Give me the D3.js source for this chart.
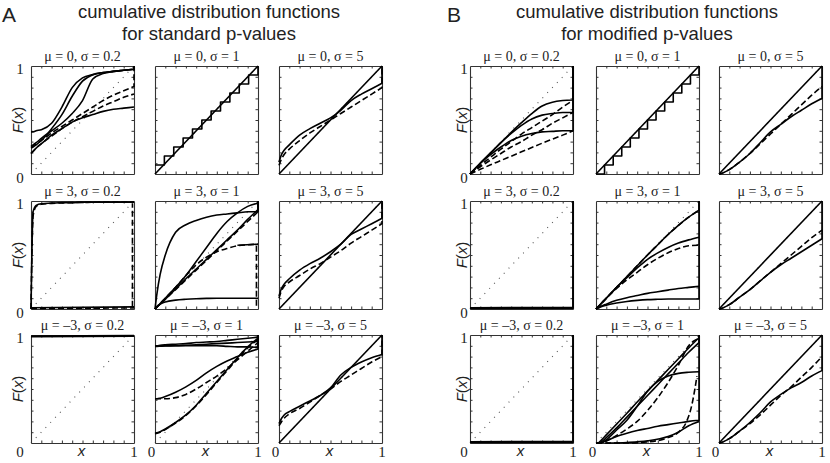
<!DOCTYPE html>
<html><head><meta charset="utf-8">
<script src="https://cdnjs.cloudflare.com/ajax/libs/d3/7.8.5/d3.min.js"></script>
<style>body{margin:0;background:#fff}</style>
</head><body>
<svg id="c" width="830" height="463"></svg>
<script>
// ---------- data ----------
const G = [0, 0.02, 0.05, 0.1, 0.2, 0.3, 0.4, 0.5, 0.6, 0.7, 0.8, 0.9, 1];
const X2 = [0, 1];
const TICKS = [0.1, 0.2, 0.3, 0.4, 0.5, 0.6, 0.7, 0.8, 0.9];
const DIAG = [0, 1];

const panelTitles = [
  ["μ = 0, σ = 0.2", "μ = 0, σ = 1", "μ = 0, σ = 5"],
  ["μ = 3, σ = 0.2", "μ = 3, σ = 1", "μ = 3, σ = 5"],
  ["μ = –3, σ = 0.2", "μ = –3, σ = 1", "μ = –3, σ = 5"]
];
const headA = ["cumulative distribution functions", "for standard p-values"];
const headB = ["cumulative distribution functions", "for modified p-values"];

// staircases
const stairAx = [0, 0.091, 0.182, 0.273, 0.364, 0.455, 0.545, 0.636, 0.727, 0.818, 0.909, 1];
const stairAy = [0.083, 0.167, 0.25, 0.333, 0.417, 0.5, 0.583, 0.667, 0.75, 0.833, 0.917, 1];
const stairBx = [0, 0.083, 0.167, 0.25, 0.333, 0.417, 0.5, 0.583, 0.667, 0.75, 0.833, 0.917, 1];
const stairBy = [0, 0.083, 0.167, 0.25, 0.333, 0.417, 0.5, 0.583, 0.667, 0.75, 0.833, 0.917, 1];

// A, mu = 0
const a11s1 = [0.39,0.39,0.40,0.41,0.47,0.62,0.80,0.89,0.92,0.94,0.95,0.96,0.97];
const a11s2 = [0.26,0.27,0.29,0.33,0.40,0.47,0.56,0.68,0.88,0.93,0.95,0.96,0.97];
const a11s3 = [0.24,0.25,0.27,0.31,0.42,0.55,0.72,0.86,0.92,0.94,0.95,0.96,0.97];
const a11s4 = [0.19,0.21,0.24,0.28,0.36,0.42,0.48,0.52,0.55,0.58,0.60,0.61,0.62];
const a11d1 = [0.25,0.26,0.28,0.31,0.38,0.44,0.50,0.56,0.62,0.68,0.73,0.77,0.81];
const a11d2 = [0.19,0.21,0.24,0.28,0.35,0.42,0.48,0.53,0.58,0.63,0.67,0.71,0.74];
const a13s  = [0.11,0.17,0.22,0.27,0.36,0.42,0.47,0.52,0.59,0.68,0.74,0.79,0.84];
const a13d  = [0.08,0.13,0.18,0.23,0.31,0.38,0.44,0.50,0.56,0.62,0.68,0.74,0.80];
// A, mu = 3
const a21s  = [0,0.90,0.96,0.975,0.98,0.985,0.985,0.99,0.99,0.99,0.99,0.99,0.99];
const a21d  = [0,0.86,0.95,0.97,0.978,0.982,0.985,0.987,0.988,0.99,0.99,0.99,0.99];
const a21bs = [0.012, 0.02];
const a21bd = [0.005, 0.01];
const a21vx = [0.985, 0.985];
const a21vy = [0.02, 0.98];
const a22top = [0,0.15,0.32,0.50,0.71,0.78,0.82,0.85,0.87,0.88,0.89,0.90,0.90];
const a22S   = [0,0.02,0.05,0.10,0.20,0.31,0.44,0.57,0.70,0.81,0.89,0.95,0.98];
const a22lin = [0,0.02,0.045,0.09,0.185,0.28,0.37,0.46,0.55,0.64,0.73,0.83,0.92];
const a22dl  = [0,0.02,0.045,0.09,0.18,0.27,0.36,0.45,0.54,0.63,0.72,0.81,0.90];
const a22dc  = [0,0.02,0.05,0.10,0.20,0.31,0.41,0.48,0.53,0.56,0.585,0.595,0.60];
const a22fx  = [0.8, 1];
const a22fy  = [0.59, 0.60];
const a22bot = [0,0.025,0.045,0.065,0.082,0.09,0.095,0.098,0.10,0.10,0.10,0.10,0.10];
const a22vx  = [0.985, 0.985];
const a22vy  = [0.03, 0.60];
const a23s  = [0.12,0.18,0.23,0.28,0.36,0.42,0.47,0.53,0.60,0.69,0.74,0.79,0.84];
const a23d  = [0.10,0.16,0.21,0.25,0.31,0.37,0.42,0.48,0.54,0.61,0.67,0.73,0.79];
// A, mu = -3
const a31t1 = [0.99, 0.995];
const a31t2 = [0.984, 0.988];
const a32t1 = [0.90,0.90,0.905,0.91,0.915,0.92,0.93,0.935,0.94,0.95,0.96,0.97,0.98];
const a32t2 = [0.90,0.90,0.90,0.90,0.90,0.90,0.90,0.90,0.90,0.895,0.89,0.89,0.885];
const a32t3 = [0.895,0.895,0.896,0.898,0.90,0.905,0.91,0.915,0.92,0.925,0.93,0.935,0.94];
const a32s  = [0.41,0.41,0.415,0.43,0.47,0.52,0.58,0.65,0.71,0.76,0.80,0.84,0.87];
const a32d  = [0.41,0.41,0.41,0.41,0.42,0.45,0.50,0.56,0.62,0.69,0.77,0.85,0.93];
const a32lo = [0.09,0.095,0.105,0.13,0.19,0.26,0.35,0.46,0.57,0.68,0.79,0.89,0.97];
const a32ld = [0.085,0.09,0.10,0.125,0.185,0.255,0.345,0.45,0.56,0.67,0.78,0.88,0.96];
const a33s  = [0.18,0.22,0.26,0.29,0.34,0.39,0.44,0.51,0.63,0.70,0.75,0.79,0.82];
const a33d  = [0.16,0.19,0.23,0.27,0.32,0.38,0.44,0.50,0.57,0.63,0.69,0.75,0.80];

// B, mu = 0
const b11s1 = [0,0.02,0.05,0.10,0.195,0.29,0.385,0.475,0.56,0.63,0.665,0.68,0.685];
const b11s2 = [0,0.02,0.05,0.10,0.195,0.29,0.375,0.45,0.51,0.545,0.56,0.57,0.57];
const b11s3 = [0,0.02,0.05,0.10,0.18,0.25,0.31,0.35,0.375,0.39,0.395,0.40,0.40];
const b11d1 = [0,0.016,0.04,0.08,0.155,0.23,0.30,0.37,0.43,0.49,0.55,0.62,0.68];
const b11d2 = [0,0.014,0.034,0.067,0.13,0.19,0.25,0.30,0.36,0.41,0.47,0.52,0.57];
const b11d3 = [0,0.009,0.022,0.043,0.085,0.125,0.165,0.205,0.245,0.285,0.322,0.36,0.40];
const b13s  = [0,0.004,0.015,0.04,0.11,0.19,0.29,0.39,0.46,0.53,0.59,0.65,0.70];
const b13d  = [0,0.004,0.015,0.04,0.11,0.19,0.28,0.37,0.46,0.55,0.64,0.73,0.81];
// B, mu = 3
const b21b1 = [0.012, 0.016];
const b21b2 = [0.004, 0.008];
const b22t  = [0,0.02,0.05,0.10,0.20,0.30,0.40,0.50,0.595,0.69,0.775,0.85,0.915];
const b22s2 = [0,0.02,0.05,0.10,0.20,0.29,0.38,0.46,0.52,0.57,0.61,0.64,0.665];
const b22d2 = [0,0.02,0.05,0.10,0.19,0.27,0.34,0.41,0.47,0.52,0.56,0.585,0.59];
const b22s3 = [0,0.01,0.025,0.045,0.08,0.105,0.125,0.145,0.16,0.175,0.19,0.20,0.21];
const b22s4 = [0,0.008,0.02,0.035,0.055,0.07,0.08,0.087,0.09,0.092,0.093,0.093,0.093];
const b23s  = [0,0.004,0.015,0.04,0.11,0.18,0.26,0.34,0.41,0.47,0.53,0.59,0.65];
const b23d  = [0,0.004,0.015,0.04,0.11,0.18,0.26,0.34,0.42,0.50,0.58,0.66,0.73];
// B, mu = -3
const b32l1 = [0,0,0.025,0.075,0.175,0.275,0.38,0.48,0.58,0.68,0.78,0.88,0.975];
const b32l2 = [0,0,0.01,0.05,0.14,0.24,0.34,0.44,0.54,0.64,0.74,0.84,0.93];
const b32cc = [0,0,0,0.03,0.12,0.21,0.34,0.48,0.57,0.62,0.645,0.655,0.66];
const b32du = [0,0,0,0.02,0.07,0.13,0.20,0.30,0.42,0.56,0.72,0.90,0.97];
const b32lo = [0,0,0.005,0.02,0.06,0.09,0.115,0.135,0.155,0.17,0.185,0.20,0.21];
const b32cvx = [0, 0.3, 0.5, 0.7, 0.8, 0.88, 0.93, 0.96, 0.98];
const b32cvy = [0, 0, 0.01, 0.05, 0.10, 0.20, 0.35, 0.50, 0.62];
const b32csx = [0.1, 0.3, 0.5, 0.7, 0.8, 0.9, 1];
const b32csy = [0, 0.005, 0.02, 0.06, 0.10, 0.16, 0.20];
const b33s  = [0,0.004,0.015,0.04,0.11,0.19,0.28,0.38,0.45,0.51,0.56,0.62,0.67];
const b33d  = [0,0.004,0.015,0.04,0.11,0.18,0.26,0.35,0.44,0.52,0.61,0.70,0.80];

// ---------- specs ----------
const S = (y, jump, x) => ({x: x || G, y, dash: false, jump});
const D = (y, jump, x) => ({x: x || G, y, dash: true, jump});
const diag = () => S(DIAG, null, X2);
const stair = (x, y) => ({x, y, dash: false, step: true});

const specA = [
  [
    [S(a11s4), D(a11d2), D(a11d1, 1), S(a11s2, 1), S(a11s3, 1), S(a11s1, 1)],
    [diag(), stair(stairAx, stairAy)],
    [diag(), D(a13d, 1), S(a13s, 1)]
  ],
  [
    [S(a21bs, null, X2), D(a21bd, null, X2), D(a21vy, null, a21vx), D(a21d), S(a21s)],
    [S(a22bot), D(a22dc), S(a22fy, null, a22fx), D(a22vy, null, a22vx), D(a22dl, 1), S(a22lin, 1), S(a22S, 1), S(a22top, 1)],
    [diag(), D(a23d, 1), S(a23s, 1)]
  ],
  [
    [S(a31t1, null, X2), S(a31t2, null, X2)],
    [D(a32ld), S(a32lo, 1), D(a32d, 1), S(a32s, 1), S(a32t3, 1), S(a32t2, 1), S(a32t1, 1)],
    [diag(), D(a33d, 1), S(a33s, 1)]
  ]
];
const specB = [
  [
    [D(b11d3), D(b11d2), D(b11d1), S(b11s3, 1), S(b11s2, 1), S(b11s1, 1)],
    [diag(), stair(stairBx, stairBy)],
    [diag(), D(b13d), S(b13s, 1)]
  ],
  [
    [S(b21b1, 1, X2), S(b21b2, 1, X2)],
    [S(b22s4, 1), S(b22s3), D(b22d2), S(b22s2), S(b22t, 1), D(b22t)],
    [diag(), D(b23d), S(b23s, 1)]
  ],
  [
    [S(b21b1, 1, X2), S(b21b2, 1, X2)],
    [S(b32csy, null, b32csx), D(b32cvy, null, b32cvx), S(b32lo, 1), S(b32cc), D(b32du), S(b32l2, 1), S(b32l1, 1)],
    [diag(), D(b33d), S(b33s, 1)]
  ]
];

// ---------- layout ----------
const W = 103, H = 108;
const colsA = [31, 155, 279];
const colsB = [470, 596, 719];
const rows = [66, 201, 335];

const svg = d3.select("#c");
const TXT = "#222";
const serif = "'Liberation Serif', 'Times New Roman', serif";
const sans = "'Liberation Sans', Arial, sans-serif";

function drawPanel(left, top, curves, title) {
  const g = svg.append("g");
  const x = d3.scaleLinear([0, 1], [left, left + W]);
  const y = d3.scaleLinear([0, 1], [top + H, top]);

  // reference diagonal (dotted)
  g.append("path")
    .attr("d", d3.line().x(d => x(d)).y(d => y(d))(DIAG))
    .attr("fill", "none").attr("stroke", "#555").attr("stroke-width", 1.1)
    .attr("stroke-dasharray", "1,6");

  // frame with inward ticks
  const mk = (axis, tr) => g.append("g").attr("transform", tr)
    .call(axis.tickValues(TICKS).tickSize(-2.5).tickSizeOuter(0).tickFormat(""))
    .call(s => s.selectAll("path,line").attr("stroke", "#333").attr("stroke-width", 1))
    .call(s => s.select(".domain").attr("stroke-width", 1.1));
  mk(d3.axisBottom(x), `translate(0,${top + H})`);
  mk(d3.axisTop(x), `translate(0,${top})`);
  mk(d3.axisLeft(y), `translate(${left},0)`);
  mk(d3.axisRight(y), `translate(${left + W},0)`);

  // curves
  curves.forEach(c => {
    const pts = c.x.map((xv, i) => [xv, c.y[i]]);
    const gen = d3.line().x(d => x(d[0])).y(d => y(d[1]))
      .curve(c.step ? d3.curveStepAfter : (pts.length > 2 ? d3.curveMonotoneX : d3.curveLinear));
    let d = gen(pts);
    if (c.jump != null) {
      const last = pts[pts.length - 1];
      d += `L${x(last[0])},${y(c.jump)}`;
    }
    g.append("path").attr("d", d).attr("fill", "none")
      .attr("stroke", "#000").attr("stroke-width", 1.6)
      .attr("stroke-linejoin", "round")
      .attr("stroke-dasharray", c.dash ? "6,3" : null);
  });

  // title
  g.append("text").attr("x", left + W / 2).attr("y", top - 10).attr("dy", "0.35em")
    .attr("text-anchor", "middle").attr("font-family", serif).attr("font-size", 14)
    .attr("fill", TXT).text(title);
}

function drawGroup(cols, spec, head, letter, letterX, headX, labX) {
  rows.forEach((top, r) => {
    cols.forEach((left, c) => drawPanel(left, top, spec[r][c], panelTitles[r][c]));
    // y labels
    svg.append("text").attr("x", labX).attr("y", top + 3).attr("dy", "0.35em")
      .attr("text-anchor", "middle").attr("font-family", serif).attr("font-size", 15)
      .attr("fill", TXT).text("1");
    svg.append("text").attr("x", labX).attr("y", r < 2 ? top + H + 4 : top + H + 9).attr("dy", "0.35em")
      .attr("text-anchor", "middle").attr("font-family", serif).attr("font-size", 15)
      .attr("fill", TXT).text("0");
    const fx = svg.append("text")
      .attr("transform", `translate(${labX - 2},${top + H / 2}) rotate(-90)`)
      .attr("dy", "0.35em").attr("text-anchor", "middle")
      .attr("font-family", sans).attr("font-size", 15).attr("fill", TXT);
    fx.append("tspan").attr("font-style", "italic").text("F");
    fx.append("tspan").text("(");
    fx.append("tspan").attr("font-style", "italic").text("x");
    fx.append("tspan").text(")");
  });
  // x labels under bottom row
  const yb = rows[2] + H + 9;
  cols.forEach((left, c) => {
    if (c > 0) svg.append("text").attr("x", left - 3.5).attr("y", yb).attr("dy", "0.35em")
      .attr("text-anchor", "middle").attr("font-family", serif).attr("font-size", 15)
      .attr("fill", TXT).text("0");
    svg.append("text").attr("x", left + W / 2 - 1).attr("y", yb - 1).attr("dy", "0.35em")
      .attr("text-anchor", "middle").attr("font-family", sans).attr("font-style", "italic")
      .attr("font-size", 15).attr("fill", TXT).text("x");
    svg.append("text").attr("x", left + W).attr("y", yb).attr("dy", "0.35em")
      .attr("text-anchor", "middle").attr("font-family", serif).attr("font-size", 15)
      .attr("fill", TXT).text("1");
  });
  // headings
  svg.append("text").attr("x", letterX).attr("y", 22)
    .attr("text-anchor", "middle").attr("font-family", sans).attr("font-size", 21)
    .attr("fill", TXT).text(letter);
  head.forEach((t, i) => svg.append("text").attr("x", headX).attr("y", 12 + i * 21.5)
    .attr("dy", "0.35em").attr("text-anchor", "middle").attr("font-family", sans)
    .attr("font-size", 18.5).attr("fill", TXT).text(t));
}

drawGroup(colsA, specA, headA, "A", 9, 209, 20);
drawGroup(colsB, specB, headB, "B", 454, 647, 464);
</script>
</body></html>
